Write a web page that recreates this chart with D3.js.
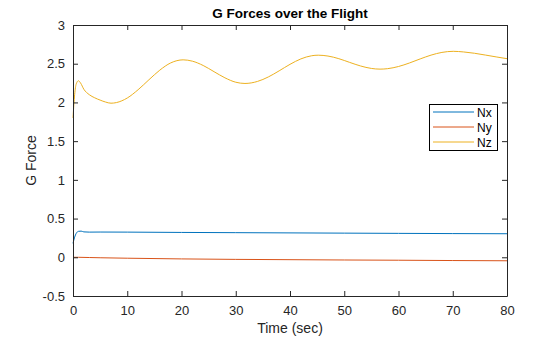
<!DOCTYPE html>
<html><head><meta charset="utf-8">
<script src="https://cdn.jsdelivr.net/npm/d3@7"></script>
<style>body{margin:0;background:#fff}svg{display:block;font-family:"Liberation Sans",Arial,sans-serif}</style>
</head><body><svg id="c" width="560" height="337"></svg>
<script>
const title = "G Forces over the Flight";
const xLabel = "Time (sec)";
const yLabel = "G Force";
const seriesNames = ["Nx","Ny","Nz"];
const colors = ["#0072BD","#D95319","#EDB120"];
const xTicks = [0,10,20,30,40,50,60,70,80];
const yTicks = [-0.5,0,0.5,1,1.5,2,2.5,3];

const nxT = [0,0.3,0.6,1,1.5,2,3,5,10,20,30,40,50,60,70,80];
const nxV = [0.18,0.26,0.31,0.335,0.338,0.328,0.325,0.326,0.325,0.321,0.318,0.315,0.312,0.309,0.306,0.304];

const nyT = [0,1,3,5,10,20,30,40,50,60,70,80];
const nyV = [0.0,0.0,-0.003,-0.006,-0.012,-0.021,-0.027,-0.031,-0.035,-0.038,-0.042,-0.045];

const nzT = [0,0.3,0.6,1,1.4,2,3,4,5,6,7,8,10,12,14,16,18,20.3,22,24,26,28,30,31.7,34,36,38,40,42,44,45.2,47,49,51,53,55,56.6,58,60,62,64,66,68,70.1,72,74,76,78,80];
const nzV = [1.80,2.10,2.24,2.28,2.25,2.17,2.10,2.06,2.03,2.005,1.99,1.998,2.057,2.164,2.293,2.417,2.51,2.55,2.533,2.477,2.397,2.318,2.261,2.245,2.271,2.329,2.408,2.492,2.562,2.603,2.61,2.599,2.565,2.517,2.471,2.439,2.43,2.436,2.464,2.509,2.562,2.611,2.646,2.66,2.652,2.635,2.612,2.588,2.565];

const svg = d3.select("#c");
const m = {l:73, r:507, t:25, b:296};
const x = d3.scaleLinear().domain([0,80]).range([m.l,m.r]);
const y = d3.scaleLinear().domain([-0.5,3]).range([m.b,m.t]);
const ink = "#262626";

const data = [
  nxT.map((t,i)=>[t,nxV[i]]),
  nyT.map((t,i)=>[t,nyV[i]]),
  nzT.map((t,i)=>[t,nzV[i]])
];
const line = d3.line().x(d=>x(d[0])).y(d=>y(d[1])).curve(d3.curveMonotoneX);
data.forEach((d,i)=>{
  svg.append("path").attr("d",line(d)).attr("fill","none").attr("stroke",colors[i]).attr("stroke-width",1);
});

// axes with inward ticks
const fs = "13px";
const gx = svg.append("g").attr("transform",`translate(0,${m.b})`)
  .call(d3.axisBottom(x).tickValues(xTicks).tickSizeInner(-5).tickSizeOuter(0).tickPadding(10).tickFormat(d3.format("d")));
const gxt = svg.append("g").attr("transform",`translate(0,${m.t})`)
  .call(d3.axisTop(x).tickValues(xTicks).tickSizeInner(-5).tickSizeOuter(0).tickFormat(""));
const gy = svg.append("g").attr("transform",`translate(${m.l},0)`)
  .call(d3.axisLeft(y).tickValues(yTicks).tickSizeInner(-5).tickSizeOuter(0).tickPadding(8).tickFormat(d=>String(d)));
const gyr = svg.append("g").attr("transform",`translate(${m.r},0)`)
  .call(d3.axisRight(y).tickValues(yTicks).tickSizeInner(-5).tickSizeOuter(0).tickFormat(""));
[gx,gxt,gy,gyr].forEach(g=>{
  g.selectAll("path").attr("stroke",ink);
  g.selectAll("line").attr("stroke",ink);
  g.selectAll("text").attr("fill",ink).style("font-size",fs).style("font-family","Liberation Sans, Arial, sans-serif");
});

svg.append("text").attr("x",(m.l+m.r)/2).attr("y",18).attr("text-anchor","middle")
  .style("font-weight","bold").style("font-size","13.5px").attr("fill","#000").text(title);
svg.append("text").attr("x",(m.l+m.r)/2).attr("y",333).attr("text-anchor","middle")
  .style("font-size","14px").attr("fill",ink).text(xLabel);
svg.append("text").attr("transform",`translate(36,${(m.t+m.b)/2}) rotate(-90)`).attr("text-anchor","middle")
  .style("font-size","14px").attr("fill",ink).text(yLabel);

// legend
const lg = svg.append("g");
lg.append("rect").attr("x",429.5).attr("y",104.5).attr("width",68).attr("height",46)
  .attr("fill","#fff").attr("stroke","#000").attr("stroke-width",1);
seriesNames.forEach((n,i)=>{
  const yy = 112 + i*15;
  lg.append("line").attr("x1",433).attr("x2",474).attr("y1",yy).attr("y2",yy).attr("stroke",colors[i]).attr("stroke-width",1);
  lg.append("text").attr("x",477).attr("y",yy+4.5).style("font-size","12px").attr("fill","#000").text(n);
});
</script></body></html>
